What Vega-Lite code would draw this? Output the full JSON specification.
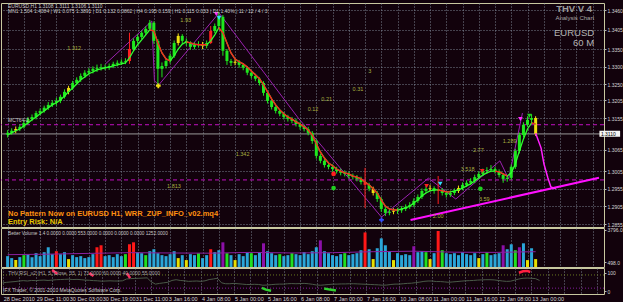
{
"$schema":"https://vega.github.io/schema/vega-lite/v6.json",
"background":"#12020c",
"padding":{"left":0,"top":2,"right":0,"bottom":0},
"spacing":1,
"bounds":"flush",
"resolve":{"scale":{"color":"independent","shape":"independent"}},
"config":{
 "view":{"stroke":"#c8c8a0","strokeWidth":1},
 "font":"Liberation Sans",
 "axis":{"gridColor":"#8c96a8","gridDash":[1,2],"gridOpacity":0.85,"gridWidth":1,"labelColor":"#d4d4d4","labelFont":"Liberation Sans","labelFontSize":5.5,"tickColor":"#b8b8b8","tickSize":2,"domain":false},
 "axisY":{"labelFontSize":5}
},
"datasets":{
"bars":[
{"t":0,"o":1.3108,"h":1.3121,"l":1.3100,"c":1.3113,"k":"g","m":1.3107,"v":1100,"vk":"b","r":45},
{"t":2,"o":1.3113,"h":1.3126,"l":1.3108,"c":1.3119,"k":"g","m":1.3113,"v":900,"vk":"b","r":48},
{"t":4,"o":1.3119,"h":1.3131,"l":1.3112,"c":1.3124,"k":"y","m":1.3119,"v":700,"vk":"y","r":50},
{"t":6,"o":1.3124,"h":1.3137,"l":1.3118,"c":1.3130,"k":"g","m":1.3124,"v":1000,"vk":"b","r":52},
{"t":8,"o":1.3130,"h":1.3147,"l":1.3125,"c":1.3141,"k":"g","m":1.3133,"v":1200,"vk":"g","r":55},
{"t":10,"o":1.3141,"h":1.3158,"l":1.3136,"c":1.3152,"k":"g","m":1.3141,"v":1300,"vk":"b","r":57},
{"t":12,"o":1.3152,"h":1.3165,"l":1.3146,"c":1.3158,"k":"g","m":1.3150,"v":1000,"vk":"b","r":55},
{"t":14,"o":1.3158,"h":1.3175,"l":1.3151,"c":1.3169,"k":"g","m":1.3158,"v":1400,"vk":"b","r":58},
{"t":16,"o":1.3169,"h":1.3182,"l":1.3163,"c":1.3175,"k":"g","m":1.3167,"v":1100,"vk":"b","r":57},
{"t":18,"o":1.3175,"h":1.3190,"l":1.3170,"c":1.3184,"k":"g","m":1.3175,"v":1500,"vk":"b","r":59},
{"t":20,"o":1.3184,"h":1.3200,"l":1.3178,"c":1.3192,"k":"g","m":1.3184,"v":2000,"vk":"b","r":60},
{"t":22,"o":1.3192,"h":1.3205,"l":1.3186,"c":1.3198,"k":"g","m":1.3192,"v":1300,"vk":"b","r":58},
{"t":24,"o":1.3198,"h":1.3212,"l":1.3190,"c":1.3203,"k":"g","m":1.3198,"v":1600,"vk":"r","r":60},
{"t":26,"o":1.3203,"h":1.3221,"l":1.3197,"c":1.3215,"k":"g","m":1.3206,"v":1300,"vk":"b","r":62},
{"t":28,"o":1.3215,"h":1.3236,"l":1.3210,"c":1.3229,"k":"g","m":1.3217,"v":1500,"vk":"b","r":63},
{"t":30,"o":1.3229,"h":1.3246,"l":1.3222,"c":1.3240,"k":"y","m":1.3229,"v":800,"vk":"y","r":64},
{"t":32,"o":1.3240,"h":1.3260,"l":1.3234,"c":1.3254,"k":"g","m":1.3240,"v":1200,"vk":"b","r":65},
{"t":34,"o":1.3254,"h":1.3270,"l":1.3248,"c":1.3263,"k":"g","m":1.3251,"v":1000,"vk":"b","r":63},
{"t":36,"o":1.3263,"h":1.3281,"l":1.3257,"c":1.3274,"k":"g","m":1.3263,"v":1100,"vk":"b","r":64},
{"t":38,"o":1.3274,"h":1.3290,"l":1.3268,"c":1.3283,"k":"g","m":1.3271,"v":900,"vk":"b","r":62},
{"t":40,"o":1.3283,"h":1.3296,"l":1.3276,"c":1.3288,"k":"g","m":1.3280,"v":1000,"vk":"b","r":60},
{"t":42,"o":1.3288,"h":1.3301,"l":1.3281,"c":1.3294,"k":"g","m":1.3285,"v":1300,"vk":"b","r":59},
{"t":44,"o":1.3294,"h":1.3306,"l":1.3285,"c":1.3297,"k":"g","m":1.3291,"v":2000,"vk":"r","r":57},
{"t":46,"o":1.3297,"h":1.3308,"l":1.3289,"c":1.3299,"k":"g","m":1.3294,"v":2200,"vk":"r","r":56},
{"t":48,"o":1.3299,"h":1.3306,"l":1.3290,"c":1.3297,"k":"g","m":1.3297,"v":1100,"vk":"b","r":54},
{"t":50,"o":1.3297,"h":1.3309,"l":1.3291,"c":1.3302,"k":"g","m":1.3299,"v":1200,"vk":"b","r":55},
{"t":52,"o":1.3302,"h":1.3314,"l":1.3296,"c":1.3308,"k":"g","m":1.3302,"v":1000,"vk":"b","r":56},
{"t":54,"o":1.3308,"h":1.3318,"l":1.3301,"c":1.3311,"k":"g","m":1.3305,"v":1300,"vk":"b","r":55},
{"t":56,"o":1.3311,"h":1.3321,"l":1.3305,"c":1.3314,"k":"g","m":1.3308,"v":1100,"vk":"b","r":55},
{"t":58,"o":1.3314,"h":1.3324,"l":1.3307,"c":1.3316,"k":"g","m":1.3311,"v":1300,"vk":"g","r":56},
{"t":60,"o":1.3316,"h":1.3396,"l":1.3308,"c":1.3350,"k":"r","m":1.3325,"v":2300,"vk":"r","r":66},
{"t":62,"o":1.3350,"h":1.3380,"l":1.3344,"c":1.3373,"k":"g","m":1.3345,"v":2500,"vk":"r","r":68},
{"t":64,"o":1.3373,"h":1.3391,"l":1.3366,"c":1.3384,"k":"g","m":1.3362,"v":1500,"vk":"b","r":69},
{"t":66,"o":1.3384,"h":1.3402,"l":1.3378,"c":1.3396,"k":"g","m":1.3376,"v":1400,"vk":"b","r":70},
{"t":68,"o":1.3396,"h":1.3414,"l":1.3390,"c":1.3407,"k":"g","m":1.3390,"v":1200,"vk":"g","r":71},
{"t":70,"o":1.3407,"h":1.3432,"l":1.3401,"c":1.3424,"k":"g","m":1.3404,"mr":1.3404,"v":1600,"vk":"b","r":72},
{"t":72,"o":1.3424,"h":1.3428,"l":1.3365,"c":1.3373,"k":"g","m":1.3401,"mr":1.3401,"v":1800,"vk":"b","r":50},
{"t":74,"o":1.3373,"h":1.3378,"l":1.3249,"c":1.3294,"k":"g","m":1.3367,"mr":1.3367,"v":1400,"vk":"b","r":38},
{"t":76,"o":1.3294,"h":1.3312,"l":1.3270,"c":1.3302,"k":"g","m":1.3339,"mr":1.3339,"v":1200,"vk":"b","r":42},
{"t":78,"o":1.3302,"h":1.3324,"l":1.3295,"c":1.3316,"k":"g","m":1.3322,"mr":1.3322,"v":1100,"vk":"b","r":45},
{"t":80,"o":1.3316,"h":1.3338,"l":1.3309,"c":1.3331,"k":"g","m":1.3316,"mr":1.3316,"v":1300,"vk":"b","r":48},
{"t":82,"o":1.3331,"h":1.3374,"l":1.3325,"c":1.3367,"k":"g","m":1.3331,"v":1600,"vk":"b","r":58},
{"t":84,"o":1.3367,"h":1.3394,"l":1.3360,"c":1.3387,"k":"y","m":1.3350,"v":900,"vk":"y","r":62},
{"t":86,"o":1.3387,"h":1.3392,"l":1.3365,"c":1.3373,"k":"g","m":1.3364,"v":1200,"vk":"b","r":58},
{"t":88,"o":1.3373,"h":1.3380,"l":1.3359,"c":1.3367,"k":"g","m":1.3370,"mr":1.3370,"v":700,"vk":"y","r":56},
{"t":90,"o":1.3367,"h":1.3372,"l":1.3348,"c":1.3356,"k":"g","m":1.3367,"mr":1.3367,"v":1300,"vk":"b","r":53},
{"t":92,"o":1.3356,"h":1.3369,"l":1.3349,"c":1.3362,"k":"g","m":1.3364,"mr":1.3364,"v":1200,"vk":"b","r":54},
{"t":94,"o":1.3362,"h":1.3372,"l":1.3354,"c":1.3364,"k":"g","m":1.3362,"mr":1.3362,"v":1400,"vk":"g","r":55},
{"t":96,"o":1.3364,"h":1.3370,"l":1.3350,"c":1.3359,"k":"y","m":1.3362,"mr":1.3362,"v":900,"vk":"b","r":53},
{"t":98,"o":1.3359,"h":1.3374,"l":1.3352,"c":1.3367,"k":"g","m":1.3362,"mr":1.3362,"v":1200,"vk":"b","r":56},
{"t":100,"o":1.3367,"h":1.3415,"l":1.3364,"c":1.3401,"k":"r","m":1.3373,"v":1800,"vk":"r","r":63},
{"t":102,"o":1.3401,"h":1.3422,"l":1.3395,"c":1.3415,"k":"g","m":1.3390,"v":1500,"vk":"b","r":66},
{"t":104,"o":1.3415,"h":1.3455,"l":1.3410,"c":1.3441,"k":"g","m":1.3410,"mr":1.3410,"v":1700,"vk":"b","r":70},
{"t":106,"o":1.3441,"h":1.3446,"l":1.3331,"c":1.3345,"k":"g","m":1.3396,"mr":1.3396,"v":2500,"vk":"p","r":45},
{"t":108,"o":1.3345,"h":1.3350,"l":1.3305,"c":1.3316,"k":"g","m":1.3367,"mr":1.3367,"v":1400,"vk":"g","r":40},
{"t":110,"o":1.3316,"h":1.3322,"l":1.3302,"c":1.3311,"k":"g","m":1.3339,"mr":1.3339,"v":1200,"vk":"b","r":40},
{"t":112,"o":1.3311,"h":1.3321,"l":1.3304,"c":1.3314,"k":"y","m":1.3322,"mr":1.3322,"v":700,"vk":"y","r":42},
{"t":114,"o":1.3314,"h":1.3319,"l":1.3297,"c":1.3305,"k":"g","m":1.3314,"mr":1.3314,"v":1300,"vk":"b","r":40},
{"t":116,"o":1.3305,"h":1.3310,"l":1.3290,"c":1.3297,"k":"g","m":1.3308,"mr":1.3308,"v":1100,"vk":"b","r":38},
{"t":118,"o":1.3297,"h":1.3302,"l":1.3276,"c":1.3283,"k":"g","m":1.3299,"mr":1.3299,"v":1500,"vk":"b","r":36},
{"t":120,"o":1.3283,"h":1.3288,"l":1.3267,"c":1.3274,"k":"g","m":1.3288,"mr":1.3288,"v":1400,"vk":"g","r":36},
{"t":122,"o":1.3274,"h":1.3280,"l":1.3259,"c":1.3266,"k":"g","m":1.3277,"mr":1.3277,"v":1200,"vk":"b","r":37},
{"t":124,"o":1.3266,"h":1.3270,"l":1.3247,"c":1.3254,"k":"g","m":1.3266,"mr":1.3266,"v":1500,"vk":"b","r":36},
{"t":126,"o":1.3254,"h":1.3259,"l":1.3218,"c":1.3226,"k":"g","m":1.3249,"mr":1.3249,"v":2400,"vk":"p","r":32},
{"t":128,"o":1.3226,"h":1.3231,"l":1.3196,"c":1.3203,"k":"g","m":1.3229,"mr":1.3229,"v":1600,"vk":"b","r":33},
{"t":130,"o":1.3203,"h":1.3209,"l":1.3179,"c":1.3186,"k":"g","m":1.3209,"mr":1.3209,"v":1400,"vk":"b","r":35},
{"t":132,"o":1.3186,"h":1.3191,"l":1.3168,"c":1.3175,"k":"g","m":1.3192,"mr":1.3192,"v":1200,"vk":"b","r":37},
{"t":134,"o":1.3175,"h":1.3180,"l":1.3160,"c":1.3167,"k":"g","m":1.3178,"mr":1.3178,"v":1300,"vk":"g","r":38},
{"t":136,"o":1.3167,"h":1.3172,"l":1.3151,"c":1.3158,"k":"g","m":1.3167,"mr":1.3167,"v":1100,"vk":"b","r":38},
{"t":138,"o":1.3158,"h":1.3164,"l":1.3145,"c":1.3152,"k":"g","m":1.3158,"mr":1.3158,"v":1200,"vk":"b","r":40},
{"t":140,"o":1.3152,"h":1.3158,"l":1.3140,"c":1.3147,"k":"g","m":1.3152,"mr":1.3152,"v":1400,"vk":"g","r":41},
{"t":142,"o":1.3147,"h":1.3153,"l":1.3131,"c":1.3138,"k":"g","m":1.3144,"mr":1.3144,"v":1300,"vk":"b","r":40},
{"t":144,"o":1.3138,"h":1.3144,"l":1.3122,"c":1.3130,"k":"g","m":1.3138,"mr":1.3138,"v":1200,"vk":"b","r":41},
{"t":146,"o":1.3130,"h":1.3136,"l":1.3117,"c":1.3124,"k":"g","m":1.3130,"mr":1.3130,"v":1500,"vk":"b","r":42},
{"t":148,"o":1.3124,"h":1.3130,"l":1.3106,"c":1.3113,"k":"g","m":1.3121,"mr":1.3121,"v":1300,"vk":"b","r":40},
{"t":150,"o":1.3113,"h":1.3118,"l":1.3082,"c":1.3090,"k":"g","m":1.3107,"mr":1.3107,"v":1600,"vk":"b","r":37},
{"t":152,"o":1.3090,"h":1.3095,"l":1.3040,"c":1.3048,"k":"g","m":1.3082,"mr":1.3082,"v":2000,"vk":"b","r":33},
{"t":154,"o":1.3048,"h":1.3054,"l":1.3027,"c":1.3034,"k":"g","m":1.3059,"mr":1.3059,"v":2700,"vk":"p","r":32},
{"t":156,"o":1.3034,"h":1.3040,"l":1.3015,"c":1.3022,"k":"g","m":1.3042,"mr":1.3042,"v":1600,"vk":"b","r":34},
{"t":158,"o":1.3022,"h":1.3028,"l":1.3010,"c":1.3017,"k":"g","m":1.3028,"mr":1.3028,"v":1400,"vk":"b","r":36},
{"t":160,"o":1.3017,"h":1.3024,"l":1.3003,"c":1.3011,"k":"g","m":1.3020,"mr":1.3020,"v":1200,"vk":"b","r":38},
{"t":162,"o":1.3011,"h":1.3017,"l":1.2998,"c":1.3005,"k":"g","m":1.3011,"mr":1.3011,"v":1100,"vk":"b","r":38},
{"t":164,"o":1.3005,"h":1.3012,"l":1.2993,"c":1.3000,"k":"g","m":1.3005,"mr":1.3005,"v":1300,"vk":"b","r":39},
{"t":166,"o":1.3000,"h":1.3007,"l":1.2990,"c":1.2997,"k":"g","m":1.3000,"mr":1.3000,"v":1400,"vk":"g","r":39},
{"t":168,"o":1.2997,"h":1.3003,"l":1.2984,"c":1.2991,"k":"g","m":1.2997,"mr":1.2997,"v":1200,"vk":"b","r":40},
{"t":170,"o":1.2991,"h":1.2998,"l":1.2981,"c":1.2988,"k":"g","m":1.2991,"mr":1.2991,"v":1300,"vk":"b","r":40},
{"t":172,"o":1.2988,"h":1.2994,"l":1.2976,"c":1.2983,"k":"g","m":1.2988,"mr":1.2988,"v":1400,"vk":"b","r":39},
{"t":174,"o":1.2983,"h":1.2989,"l":1.2967,"c":1.2974,"k":"g","m":1.2983,"mr":1.2983,"v":1700,"vk":"b","r":38},
{"t":176,"o":1.2974,"h":1.3014,"l":1.2901,"c":1.2966,"k":"r","m":1.2974,"mr":1.2974,"v":3500,"vk":"r","r":37},
{"t":178,"o":1.2966,"h":1.2972,"l":1.2948,"c":1.2955,"k":"g","m":1.2966,"mr":1.2966,"v":1800,"vk":"b","r":36},
{"t":180,"o":1.2955,"h":1.2961,"l":1.2936,"c":1.2943,"k":"y","m":1.2955,"mr":1.2955,"v":800,"vk":"y","r":35},
{"t":182,"o":1.2943,"h":1.2949,"l":1.2918,"c":1.2926,"k":"g","m":1.2943,"mr":1.2943,"v":1900,"vk":"b","r":34},
{"t":184,"o":1.2926,"h":1.2931,"l":1.2890,"c":1.2898,"k":"g","m":1.2923,"mr":1.2923,"v":2900,"vk":"b","r":32},
{"t":186,"o":1.2898,"h":1.2904,"l":1.2878,"c":1.2887,"k":"g","m":1.2906,"mr":1.2906,"v":2200,"vk":"b","r":33},
{"t":188,"o":1.2887,"h":1.2898,"l":1.2880,"c":1.2890,"k":"g","m":1.2898,"mr":1.2898,"v":1600,"vk":"b","r":36},
{"t":190,"o":1.2890,"h":1.2900,"l":1.2883,"c":1.2892,"k":"y","m":1.2895,"mr":1.2895,"v":700,"vk":"y","r":38},
{"t":192,"o":1.2892,"h":1.2901,"l":1.2884,"c":1.2894,"k":"g","m":1.2895,"mr":1.2895,"v":1400,"vk":"b","r":38},
{"t":194,"o":1.2894,"h":1.2906,"l":1.2887,"c":1.2898,"k":"g","m":1.2898,"v":1200,"vk":"b","r":40},
{"t":196,"o":1.2898,"h":1.2911,"l":1.2892,"c":1.2904,"k":"g","m":1.2901,"v":1300,"vk":"b","r":42},
{"t":198,"o":1.2904,"h":1.2917,"l":1.2898,"c":1.2909,"k":"g","m":1.2906,"v":1200,"vk":"b","r":43},
{"t":200,"o":1.2909,"h":1.2928,"l":1.2903,"c":1.2921,"k":"g","m":1.2915,"v":2100,"vk":"p","r":46},
{"t":202,"o":1.2921,"h":1.2939,"l":1.2915,"c":1.2932,"k":"g","m":1.2923,"v":1500,"vk":"b","r":49},
{"t":204,"o":1.2932,"h":1.2956,"l":1.2926,"c":1.2949,"k":"g","m":1.2935,"v":1600,"vk":"b","r":53},
{"t":206,"o":1.2949,"h":1.2963,"l":1.2942,"c":1.2955,"k":"g","m":1.2943,"v":1500,"vk":"g","r":55},
{"t":208,"o":1.2955,"h":1.2966,"l":1.2948,"c":1.2957,"k":"y","m":1.2949,"v":800,"vk":"y","r":55},
{"t":210,"o":1.2957,"h":1.2962,"l":1.2941,"c":1.2949,"k":"g","m":1.2952,"v":1400,"vk":"b","r":52},
{"t":212,"o":1.2949,"h":1.2991,"l":1.2912,"c":1.2951,"k":"r","m":1.2952,"mr":1.2952,"v":3650,"vk":"r","r":52},
{"t":214,"o":1.2951,"h":1.2957,"l":1.2936,"c":1.2943,"k":"g","m":1.2949,"mr":1.2949,"v":1700,"vk":"g","r":50},
{"t":216,"o":1.2943,"h":1.2949,"l":1.2930,"c":1.2938,"k":"g","m":1.2946,"mr":1.2946,"v":1400,"vk":"b","r":48},
{"t":218,"o":1.2938,"h":1.2950,"l":1.2932,"c":1.2943,"k":"g","m":1.2946,"mr":1.2946,"v":1300,"vk":"b","r":50},
{"t":220,"o":1.2943,"h":1.2956,"l":1.2937,"c":1.2949,"k":"g","m":1.2949,"v":1400,"vk":"b","r":52},
{"t":222,"o":1.2949,"h":1.2964,"l":1.2943,"c":1.2957,"k":"y","m":1.2952,"v":1200,"vk":"b","r":54},
{"t":224,"o":1.2957,"h":1.2973,"l":1.2951,"c":1.2966,"k":"g","m":1.2957,"v":1500,"vk":"b","r":56},
{"t":226,"o":1.2966,"h":1.2979,"l":1.2960,"c":1.2972,"k":"g","m":1.2963,"v":1300,"vk":"b","r":57},
{"t":228,"o":1.2972,"h":1.2985,"l":1.2966,"c":1.2977,"k":"g","m":1.2969,"v":1200,"vk":"b","r":58},
{"t":230,"o":1.2977,"h":1.2995,"l":1.2971,"c":1.2988,"k":"g","m":1.2977,"v":1400,"vk":"b","r":60},
{"t":232,"o":1.2988,"h":1.3004,"l":1.2982,"c":1.2997,"k":"g","m":1.2986,"v":900,"vk":"y","r":61},
{"t":234,"o":1.2997,"h":1.3012,"l":1.2991,"c":1.3005,"k":"g","m":1.2994,"v":1300,"vk":"b","r":62},
{"t":236,"o":1.3005,"h":1.3016,"l":1.2998,"c":1.3008,"k":"g","m":1.3000,"v":1500,"vk":"g","r":62},
{"t":238,"o":1.3008,"h":1.3022,"l":1.3002,"c":1.3011,"k":"g","m":1.3005,"v":1200,"vk":"b","r":61},
{"t":240,"o":1.3011,"h":1.3017,"l":1.2998,"c":1.3005,"k":"g","m":1.3005,"mr":1.3005,"v":1300,"vk":"b","r":58},
{"t":242,"o":1.3005,"h":1.3010,"l":1.2987,"c":1.2994,"k":"g","m":1.3003,"mr":1.3003,"v":1400,"vk":"b","r":55},
{"t":244,"o":1.2994,"h":1.2999,"l":1.2972,"c":1.2983,"k":"g","m":1.2997,"mr":1.2997,"v":2200,"vk":"p","r":53},
{"t":246,"o":1.2983,"h":1.2992,"l":1.2975,"c":1.2986,"k":"g","m":1.2991,"mr":1.2991,"v":1800,"vk":"b","r":54},
{"t":248,"o":1.2986,"h":1.3024,"l":1.2980,"c":1.3017,"k":"g","m":1.3000,"v":2300,"vk":"b","r":60},
{"t":250,"o":1.3017,"h":1.3068,"l":1.3011,"c":1.3062,"k":"g","m":1.3025,"v":1700,"vk":"g","r":66},
{"t":252,"o":1.3062,"h":1.3114,"l":1.3055,"c":1.3107,"k":"g","m":1.3062,"v":2000,"vk":"p","r":70},
{"t":254,"o":1.3107,"h":1.3143,"l":1.3100,"c":1.3136,"k":"g","m":1.3096,"v":2400,"vk":"b","r":71},
{"t":256,"o":1.3136,"h":1.3160,"l":1.3130,"c":1.3150,"k":"g","m":1.3124,"v":700,"vk":"y","r":70},
{"t":258,"o":1.3150,"h":1.3166,"l":1.3141,"c":1.3155,"k":"g","m":1.3141,"mr":1.3141,"v":1900,"vk":"b","r":68},
{"t":260,"o":1.3155,"h":1.3160,"l":1.3104,"c":1.3110,"k":"y","m":1.3138,"mr":1.3138,"v":800,"vk":"y","r":58}
],
"zz":[
{"t":48.2,"p":1.3308},{"t":71,"p":1.3429},{"t":72.3,"p":1.3260},{"t":74.5,"p":1.3249},{"t":104.1,"p":1.3452},{"t":143.1,"p":1.3155},{"t":184.1,"p":1.2875},{"t":207.2,"p":1.2985},{"t":220.7,"p":1.2926},{"t":242.4,"p":1.3034},{"t":246.7,"p":1.2983},{"t":253.5,"p":1.3169}
],
"hl":[{"p":1.3136},{"p":1.2980}],
"cur":[{"p":1.3110,"a":291.4,"b":301.6,"p1":1.3102,"p2":1.3119,"s":"1.3110"}],
"trend":[{"t":198.4,"p":1.2867},{"t":291.2,"p":1.2986}],
"proj":[{"t":260,"p":1.3112},{"t":262.7,"p":1.3070},{"t":264.1,"p":1.3025},{"t":266,"p":1.2986},{"t":267.5,"p":1.2960},{"t":269.9,"p":1.2955}],
"mk":[
{"t":102.7,"p":1.3449,"s":"dn","c":"m"},{"t":104.1,"p":1.3438,"s":"dn","c":"c"},{"t":74.2,"p":1.3246,"s":"x","c":"y"},{"t":184.1,"p":1.2867,"s":"x","c":"b"},
{"t":206.3,"p":1.2963,"s":"dn","c":"r"},{"t":233.7,"p":1.3005,"s":"dn","c":"r"},{"t":213,"p":1.2969,"s":"dn","c":"c"},{"t":252.5,"p":1.3152,"s":"dn","c":"m"},
{"t":160.5,"p":1.2957,"s":"o","c":"g"},{"t":232.8,"p":1.2955,"s":"o","c":"g"},{"t":160.5,"p":1.2997,"s":"o","c":"r"},{"t":256.9,"p":1.3161,"s":"dn","c":"g"}
],
"hdr":[
{"t":0.2,"p":1.3472,"s":"EURUSD,H1  1.3108 1.3111 1.3106 1.3110"},
{"t":0.2,"p":1.3456,"s":"MN1 1.504  1.4084 | W1 0.075  1.3891 | D1 0.132  0.0862 | H4 0.195  0.159 | H1 0.115  0.033 | D1  1.40% | 11 / 12 / 4 / 3"},
{"t":0.2,"p":1.3150,"s":"MCT64-2"}
],
"fib":[
{"t":87.7,"p":1.3432,"s":"1.93"},{"t":32.8,"p":1.3353,"s":"1.312"},{"t":115.7,"p":1.3053,"s":"1.342"},{"t":81.9,"p":1.2963,"s":"1.813"},
{"t":150.4,"p":1.3181,"s":"0.12"},{"t":157.1,"p":1.3209,"s":"0.21"},{"t":172.5,"p":1.3237,"s":"0.31"},{"t":178.3,"p":1.3288,"s":"3"},
{"t":226.5,"p":1.3011,"s":"3.518"},{"t":231.8,"p":1.3065,"s":"2.77"},{"t":247.2,"p":1.3090,"s":"1.289"},{"t":234.7,"p":1.2926,"s":"3.59"},{"t":212,"p":1.2878,"s":"2.00"}
],
"pat":[
{"t":0.2,"p":1.2883,"s":"No Pattern Now on EURUSD H1,  WRR_ZUP_INFO_v02.mq4","k":"o"},
{"t":0.2,"p":1.2861,"s":"Entry Risk: N/A","k":"y"}
],
"wm":[
{"t":287.8,"p":1.3462,"s":"THV V 4","k":"a"},
{"t":288.8,"p":1.3438,"s":"Analysis Chart","k":"b"},
{"t":288.8,"p":1.3396,"s":"EURUSD","k":"c"},
{"t":288.8,"p":1.3367,"s":"60 M","k":"c"}
],
"vma":[{"t":0,"v":1250},{"t":20,"v":1300},{"t":40,"v":1380},{"t":60,"v":1450},{"t":80,"v":1420},{"t":100,"v":1400},{"t":120,"v":1480},{"t":140,"v":1420},{"t":160,"v":1450},{"t":180,"v":1550},{"t":200,"v":1600},{"t":220,"v":1500},{"t":240,"v":1480},{"t":260,"v":1550}],
"vtx":[{"t":0.2,"v":3342,"s":"Better Volume 1.4 0.0000 0.0000 553.0000 0.0000 0.0000 0.0000 1252.0000"}],
"rlv":[{"r":88,"k":"u"},{"r":16,"k":"d"}],
"rh":[
{"t":24,"r":115,"g":"a"},{"t":26.5,"r":93,"g":"a"},
{"t":42,"r":98,"g":"b"},{"t":44,"r":82,"g":"b"},
{"t":60.2,"r":98,"g":"c"},{"t":61.7,"r":71,"g":"c"},
{"t":250,"r":100,"g":"d"},{"t":252,"r":108,"g":"d"},{"t":254,"r":110,"g":"d"},{"t":255.5,"r":104,"g":"d"},
{"t":125.5,"r":18,"g":"e"},{"t":127.5,"r":8,"g":"e"},{"t":130,"r":2,"g":"e"},
{"t":155.7,"r":14,"g":"f"},{"t":158.5,"r":8,"g":"f"},{"t":161.4,"r":3,"g":"f"}
],
"rtx":[
{"t":2.7,"r":99,"s":"THV RSI_v2 (H1, 5, Close, 35, 1) 73.0000 60.0000 40.0000 55.0000","k":"a"},
{"t":0.2,"r":6,"s":"IFX Trader, © 2001-2010 MetaQuotes Software Corp.","k":"b"}
]
},
"vconcat":[
{
"width":603,"height":224,
"resolve":{"axis":{"x":"independent","y":"independent"},"scale":{"color":"independent","shape":"independent"}},
"layer":[
{"data":{"name":"zz"},"mark":{"type":"line","color":"#9a22b0","strokeWidth":1},
 "encoding":{
  "x":{"field":"t","type":"quantitative","scale":{"domain":[-0.8,291.2],"nice":false,"zero":false},"axis":{"values":[0,8,16,24,32,40,48,56,64,72,80,88,96,104,112,120,128,136,144,152,160,168,176,184,192,200,208,216,224,232,240,248,256,264,272,280,288],"labels":false,"ticks":false,"title":null,"grid":true}},
  "y":{"field":"p","type":"quantitative","scale":{"domain":[1.2847,1.348],"nice":false,"zero":false},"axis":{"orient":"right","values":[1.346,1.3405,1.335,1.33,1.325,1.3205,1.3155,1.3065,1.3005,1.2955,1.2905,1.2855],"format":".4f","title":null,"grid":true,"labelAlign":"left","labelPadding":1}}}},
{"data":{"name":"hl"},"mark":{"type":"rule","color":"#c010c0","strokeDash":[4,3],"strokeWidth":1},
 "encoding":{"y":{"field":"p","type":"quantitative","scale":{"domain":[1.2847,1.348],"nice":false,"zero":false},"axis":null}}},
{"data":{"name":"cur"},"mark":{"type":"rule","color":"#9a9a9a","strokeWidth":1},
 "encoding":{"y":{"field":"p","type":"quantitative","scale":{"domain":[1.2847,1.348],"nice":false,"zero":false},"axis":null}}},
{"data":{"name":"trend"},"mark":{"type":"line","color":"#ff10ff","strokeWidth":2},
 "encoding":{"x":{"field":"t","type":"quantitative","scale":{"domain":[-0.8,291.2],"nice":false,"zero":false},"axis":null},"y":{"field":"p","type":"quantitative","scale":{"domain":[1.2847,1.348],"nice":false,"zero":false},"axis":null}}},
{"data":{"name":"bars"},"mark":{"type":"rule","strokeWidth":1},
 "encoding":{"x":{"field":"t","type":"quantitative","scale":{"domain":[-0.8,291.2],"nice":false,"zero":false},"axis":null},"y":{"field":"l","type":"quantitative","scale":{"domain":[1.2847,1.348],"nice":false,"zero":false},"axis":null},"y2":{"field":"h"},
  "color":{"field":"k","type":"nominal","scale":{"domain":["g","y","r"],"range":["#1ee81e","#f0e010","#ff2020"]},"legend":null}}},
{"data":{"name":"bars"},"mark":{"type":"bar","width":3},
 "encoding":{"x":{"field":"t","type":"quantitative","scale":{"domain":[-0.8,291.2],"nice":false,"zero":false},"axis":null},"y":{"field":"o","type":"quantitative","scale":{"domain":[1.2847,1.348],"nice":false,"zero":false},"axis":null},"y2":{"field":"c"},
  "color":{"field":"k","type":"nominal","scale":{"domain":["g","y","r"],"range":["#1ee81e","#f0e010","#ff2020"]},"legend":null}}},
{"data":{"name":"bars"},"mark":{"type":"line","color":"#30ff30","strokeWidth":1.3},
 "encoding":{"x":{"field":"t","type":"quantitative","scale":{"domain":[-0.8,291.2],"nice":false,"zero":false},"axis":null},"y":{"field":"m","type":"quantitative","scale":{"domain":[1.2847,1.348],"nice":false,"zero":false},"axis":null}}},
{"data":{"name":"bars"},"mark":{"type":"line","color":"#ff2020","strokeWidth":1.3},
 "encoding":{"x":{"field":"t","type":"quantitative","scale":{"domain":[-0.8,291.2],"nice":false,"zero":false},"axis":null},"y":{"field":"mr","type":"quantitative","scale":{"domain":[1.2847,1.348],"nice":false,"zero":false},"axis":null}}},
{"data":{"name":"proj"},"mark":{"type":"line","color":"#ff20ff","strokeWidth":1.5},
 "encoding":{"x":{"field":"t","type":"quantitative","scale":{"domain":[-0.8,291.2],"nice":false,"zero":false},"axis":null},"y":{"field":"p","type":"quantitative","scale":{"domain":[1.2847,1.348],"nice":false,"zero":false},"axis":null}}},
{"data":{"name":"mk"},"mark":{"type":"point","filled":true,"size":22,"opacity":1},
 "encoding":{"x":{"field":"t","type":"quantitative","scale":{"domain":[-0.8,291.2],"nice":false,"zero":false},"axis":null},"y":{"field":"p","type":"quantitative","scale":{"domain":[1.2847,1.348],"nice":false,"zero":false},"axis":null},
  "shape":{"field":"s","type":"nominal","scale":{"domain":["dn","x","o"],"range":["triangle-down","cross","circle"]},"legend":null},
  "color":{"field":"c","type":"nominal","scale":{"domain":["m","c","y","b","r","g"],"range":["#ff30ff","#30e0ff","#f0e010","#3050ff","#ff2020","#20d020"]},"legend":null}}},
{"data":{"name":"fib"},"mark":{"type":"text","fontSize":5.5,"color":"#a8b040","align":"center","baseline":"middle"},
 "encoding":{"x":{"field":"t","type":"quantitative","scale":{"domain":[-0.8,291.2],"nice":false,"zero":false},"axis":null},"y":{"field":"p","type":"quantitative","scale":{"domain":[1.2847,1.348],"nice":false,"zero":false},"axis":null},"text":{"field":"s"}}},
{"data":{"name":"hdr"},"mark":{"type":"text","fontSize":5,"color":"#c8c8c8","align":"left","baseline":"middle"},
 "encoding":{"x":{"field":"t","type":"quantitative","scale":{"domain":[-0.8,291.2],"nice":false,"zero":false},"axis":null},"y":{"field":"p","type":"quantitative","scale":{"domain":[1.2847,1.348],"nice":false,"zero":false},"axis":null},"text":{"field":"s"}}},
{"data":{"name":"pat"},"mark":{"type":"text","fontSize":7.5,"fontWeight":"bold","align":"left","baseline":"middle"},
 "encoding":{"x":{"field":"t","type":"quantitative","scale":{"domain":[-0.8,291.2],"nice":false,"zero":false},"axis":null},"y":{"field":"p","type":"quantitative","scale":{"domain":[1.2847,1.348],"nice":false,"zero":false},"axis":null},"text":{"field":"s"},
  "color":{"field":"k","type":"nominal","scale":{"domain":["o","y"],"range":["#ff9010","#e8c800"]},"legend":null}}},
{"data":{"name":"wm"},"transform":[{"filter":"datum.k == 'a'"}],"mark":{"type":"text","fontSize":9.5,"fontWeight":"bold","color":"#9c9c9c","align":"right","baseline":"middle"},
 "encoding":{"x":{"field":"t","type":"quantitative","scale":{"domain":[-0.8,291.2],"nice":false,"zero":false},"axis":null},"y":{"field":"p","type":"quantitative","scale":{"domain":[1.2847,1.348],"nice":false,"zero":false},"axis":null},"text":{"field":"s"}}},
{"data":{"name":"wm"},"transform":[{"filter":"datum.k == 'b'"}],"mark":{"type":"text","fontSize":6,"color":"#a8a8a8","align":"right","baseline":"middle"},
 "encoding":{"x":{"field":"t","type":"quantitative","scale":{"domain":[-0.8,291.2],"nice":false,"zero":false},"axis":null},"y":{"field":"p","type":"quantitative","scale":{"domain":[1.2847,1.348],"nice":false,"zero":false},"axis":null},"text":{"field":"s"}}},
{"data":{"name":"wm"},"transform":[{"filter":"datum.k == 'c'"}],"mark":{"type":"text","fontSize":9.5,"color":"#b4b4b4","align":"right","baseline":"middle"},
 "encoding":{"x":{"field":"t","type":"quantitative","scale":{"domain":[-0.8,291.2],"nice":false,"zero":false},"axis":null},"y":{"field":"p","type":"quantitative","scale":{"domain":[1.2847,1.348],"nice":false,"zero":false},"axis":null},"text":{"field":"s"}}},
{"data":{"name":"cur"},"mark":{"type":"rect","color":"#f4f4f4","clip":false},
 "encoding":{"x":{"field":"a","type":"quantitative","scale":{"domain":[-0.8,291.2],"nice":false,"zero":false},"axis":null},"x2":{"field":"b"},"y":{"field":"p1","type":"quantitative","scale":{"domain":[1.2847,1.348],"nice":false,"zero":false},"axis":null},"y2":{"field":"p2"}}},
{"data":{"name":"cur"},"mark":{"type":"text","fontSize":5,"color":"#000000","align":"left","baseline":"middle","clip":false,"dx":1.5},
 "encoding":{"x":{"field":"a","type":"quantitative","scale":{"domain":[-0.8,291.2],"nice":false,"zero":false},"axis":null},"y":{"field":"p","type":"quantitative","scale":{"domain":[1.2847,1.348],"nice":false,"zero":false},"axis":null},"text":{"field":"s"}}}
]
},
{
"width":603,"height":39,
"resolve":{"axis":{"x":"independent","y":"independent"}},
"layer":[
{"data":{"name":"bars"},"mark":{"type":"bar","width":3},
 "encoding":{
  "x":{"field":"t","type":"quantitative","scale":{"domain":[-0.8,291.2],"nice":false,"zero":false},"axis":{"values":[0,8,16,24,32,40,48,56,64,72,80,88,96,104,112,120,128,136,144,152,160,168,176,184,192,200,208,216,224,232,240,248,256,264,272,280,288],"labels":false,"ticks":false,"title":null,"grid":true}},
  "y":{"field":"v","type":"quantitative","scale":{"domain":[0,3950],"nice":false},"axis":{"orient":"right","values":[3796,498],"format":".1f","title":null,"grid":false,"labelAlign":"left","labelPadding":1}},
  "color":{"field":"vk","type":"nominal","scale":{"domain":["b","g","y","r","p"],"range":["#2aa6d8","#20e020","#e8e000","#ff1818","#8c10a8"]},"legend":null}}},
{"data":{"name":"vma"},"mark":{"type":"line","color":"#8a20a0","strokeWidth":1},
 "encoding":{"x":{"field":"t","type":"quantitative","scale":{"domain":[-0.8,291.2],"nice":false,"zero":false},"axis":null},"y":{"field":"v","type":"quantitative","scale":{"domain":[0,3950],"nice":false},"axis":null}}},
{"data":{"name":"vtx"},"mark":{"type":"text","fontSize":4.7,"color":"#c8c8c8","align":"left","baseline":"middle"},
 "encoding":{"x":{"field":"t","type":"quantitative","scale":{"domain":[-0.8,291.2],"nice":false,"zero":false},"axis":null},"y":{"field":"v","type":"quantitative","scale":{"domain":[0,3950],"nice":false},"axis":null},"text":{"field":"s"}}}
]
},
{
"width":603,"height":26,
"resolve":{"axis":{"x":"independent","y":"independent"},"scale":{"color":"independent"}},
"layer":[
{"data":{"name":"bars"},"mark":{"type":"line","color":"#4a5a48","strokeWidth":1},
 "encoding":{
  "x":{"field":"t","type":"quantitative","scale":{"domain":[-0.8,291.2],"nice":false,"zero":false},"axis":{"orient":"bottom","values":[0,8,16,24,32,40,48,56,64,72,80,88,96,104,112,120,128,136,144,152,160,168,176,184,192,200,208,216,224,232,240,248,256,264,272,280,288],"labelExpr":"(datum.value % 16 == 0 && datum.value <= 256) ? ['28 Dec 2010','29 Dec 11:00','30 Dec 03:00','30 Dec 19:00','31 Dec 11:00','3 Jan 16:00','4 Jan 08:00','5 Jan 00:00','5 Jan 16:00','6 Jan 08:00','7 Jan 00:00','7 Jan 16:00','10 Jan 08:00','11 Jan 00:00','11 Jan 16:00','12 Jan 08:00','13 Jan 00:00'][datum.value/16] : ''","ticks":false,"title":null,"grid":true,"labelAlign":"left","labelBaseline":"top","labelPadding":2,"labelOffset":0.5,"labelOverlap":false,"labelFlush":false}},
  "y":{"field":"r","type":"quantitative","scale":{"domain":[-16,126],"nice":false,"zero":false},"axis":{"orient":"right","values":[100,0],"format":"d","title":null,"grid":false,"labelAlign":"left","labelPadding":1}}}},
{"data":{"name":"rlv"},"mark":{"type":"rule","strokeDash":[1,2],"strokeWidth":1},
 "encoding":{"y":{"field":"r","type":"quantitative","scale":{"domain":[-16,126],"nice":false,"zero":false},"axis":null},
  "color":{"field":"k","type":"nominal","scale":{"domain":["u","d"],"range":["#6a7a20","#80209a"]},"legend":null}}},
{"data":{"name":"rh"},"mark":{"type":"line","strokeWidth":2.5},
 "encoding":{"x":{"field":"t","type":"quantitative","scale":{"domain":[-0.8,291.2],"nice":false,"zero":false},"axis":null},"y":{"field":"r","type":"quantitative","scale":{"domain":[-16,126],"nice":false,"zero":false},"axis":null},
  "color":{"field":"g","type":"nominal","scale":{"domain":["a","b","c","d","e","f"],"range":["#ff3060","#ff3060","#ff3060","#ff2040","#30d030","#30d030"]},"legend":null}}},
{"data":{"name":"rtx"},"mark":{"type":"text","fontSize":5,"align":"left","baseline":"middle"},
 "encoding":{"x":{"field":"t","type":"quantitative","scale":{"domain":[-0.8,291.2],"nice":false,"zero":false},"axis":null},"y":{"field":"r","type":"quantitative","scale":{"domain":[-16,126],"nice":false,"zero":false},"axis":null},"text":{"field":"s"},
  "color":{"field":"k","type":"nominal","scale":{"domain":["a","b"],"range":["#a8a8a8","#c8c8c8"]},"legend":null}}}
]
}
]
}
